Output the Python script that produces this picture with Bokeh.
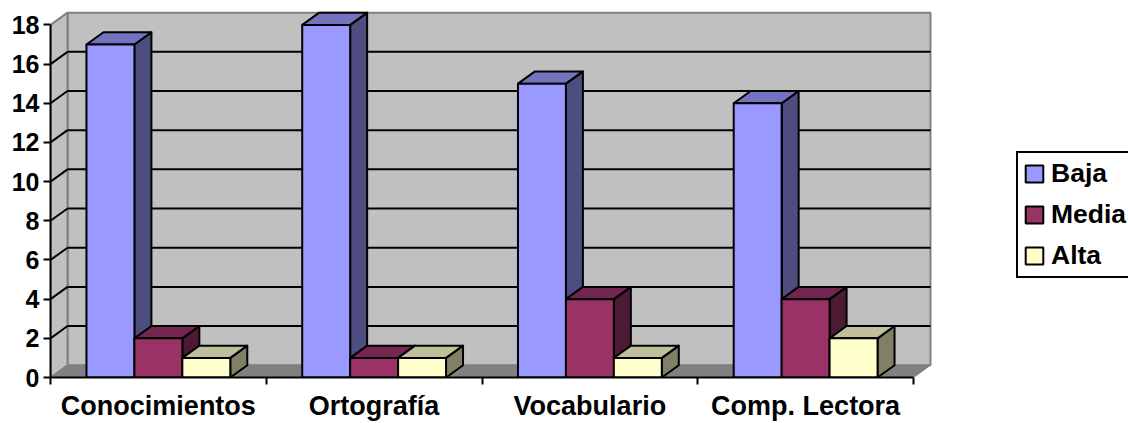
from bokeh.plotting import figure
from bokeh.models import Range1d, FixedTicker, Legend, LegendItem
from bokeh.embed import file_html
from bokeh.resources import INLINE

categories = ["Conocimientos", "Ortografía", "Vocabulario", "Comp. Lectora"]
series_names = ["Baja", "Media", "Alta"]
baja = [17, 18, 15, 14]
media = [2, 1, 4, 4]
alta = [1, 1, 1, 2]
y_ticks = list(range(0, 20, 2))

front = ["#9999FF", "#993366", "#FFFFCC"]
top = ["#7373BF", "#732650", "#BFBF99"]
side = ["#4D4D80", "#4D1A33", "#808066"]

PX_X = 215.75   # px per category
PX_Y = 19.64    # px per value unit
DX = 17 / PX_X  # 3-D depth in data units
DY = 12.3 / PX_Y
GAP = 1 / 6
BAR = 2 / 9
N = len(categories)
YMAX = y_ticks[-1]

p = figure(width=1128, height=423, output_backend="svg", toolbar_location=None,
           x_range=Range1d(0, 1078 / PX_X), y_range=Range1d(0, 378 / PX_Y),
           min_border_left=50, min_border_right=0, min_border_top=0, min_border_bottom=45,
           outline_line_color=None, background_fill_color="white")
p.grid.visible = False

# walls and floor
WALL = "#C0C0C0"
EDGE = "#808080"
p.patch([DX, N + DX, N + DX, DX], [DY, DY, YMAX + DY, YMAX + DY], fill_color=WALL, line_color=EDGE, line_width=2)
p.patch([0, DX, DX, 0], [0, DY, YMAX + DY, YMAX], fill_color=WALL, line_color=EDGE, line_width=2)
p.patch([0, N, N + DX, DX], [0, 0, DY, DY], fill_color=EDGE, line_color=EDGE, line_width=1)
inner = y_ticks[1:-1]
p.segment([DX] * len(inner), [v + DY for v in inner], [N + DX] * len(inner), [v + DY for v in inner],
          line_color="black", line_width=2)
p.segment([0] * len(inner), inner, [DX] * len(inner), [v + DY for v in inner],
          line_color="black", line_width=2)

# bars
legend_rs = {}
values = [baja, media, alta]
for c in range(N):
    for s, vals in enumerate(values):
        v = vals[c]
        x0 = c + GAP + s * BAR
        x1 = x0 + BAR
        p.patch([x1, x1 + DX, x1 + DX, x1], [0, DY, v + DY, v],
                fill_color=side[s], line_color="black", line_width=2, line_join="round")
        p.patch([x0, x1, x1 + DX, x0 + DX], [v, v, v + DY, v + DY],
                fill_color=top[s], line_color="black", line_width=2, line_join="round")
        r = p.quad(left=[x0], right=[x1], bottom=[0], top=[v],
                   fill_color=front[s], line_color="black", line_width=2)
        if c == 0:
            legend_rs[s] = r

# axes
ya = p.yaxis[0]
ya.ticker = FixedTicker(ticks=y_ticks)
ya.bounds = (0, YMAX)
ya.axis_line_color = "black"
ya.axis_line_width = 2
ya.major_tick_line_color = "black"
ya.major_tick_line_width = 2
ya.major_tick_out = 7
ya.major_tick_in = 0
ya.minor_tick_line_color = None
ya.major_label_standoff = 4
ya.major_label_text_font = "Liberation Sans"
ya.major_label_text_font_style = "bold"
ya.major_label_text_font_size = "25px"
ya.major_label_text_color = "black"

xa = p.xaxis[0]
centers = [i + 0.5 for i in range(N)]
xa.ticker = FixedTicker(ticks=centers, minor_ticks=list(range(N + 1)))
xa.major_label_overrides = {c: n for c, n in zip(centers, categories)}
xa.bounds = (0, N)
xa.axis_line_color = "black"
xa.axis_line_width = 2
xa.major_tick_line_color = None
xa.major_tick_out = 7
xa.major_tick_in = 0
xa.minor_tick_line_color = "black"
xa.minor_tick_line_width = 2
xa.minor_tick_out = 7
xa.minor_tick_in = 0
xa.major_label_standoff = 6
xa.major_label_text_font = "Liberation Sans"
xa.major_label_text_font_style = "bold"
xa.major_label_text_font_size = "27px"
xa.major_label_text_color = "black"

# legend
legend = Legend(items=[LegendItem(label=n, renderers=[legend_rs[i]]) for i, n in enumerate(series_names)],
                location=(966, 99), orientation="vertical",
                border_line_color="black", border_line_width=2, border_line_alpha=1,
                background_fill_color="white", background_fill_alpha=1,
                label_text_font="Liberation Sans", label_text_font_style="bold",
                label_text_font_size="26.5px", label_text_color="black", label_width=100,
                glyph_width=22, glyph_height=21, label_standoff=6, padding=5, spacing=10, margin=0)
p.add_layout(legend, "center")

open("out.html", "w").write(file_html(p, INLINE))
